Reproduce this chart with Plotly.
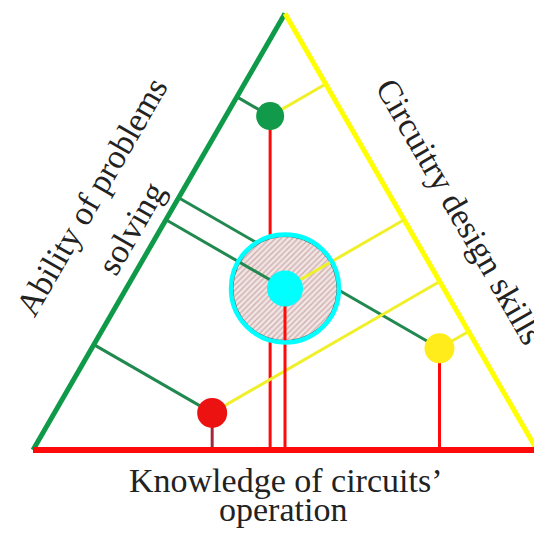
import numpy as np
import plotly.graph_objects as go

# Share of the triangle height measured from each point to each side.
# knowledge -> bottom side (red), problems -> left side (green), design -> right side (yellow)
points = ["green", "cyan", "yellow", "red"]
knowledge = [0.765, 0.370, 0.233, 0.085]
problems = [0.088, 0.315, 0.690, 0.313]
design = [0.147, 0.315, 0.077, 0.602]

side_labels = {
    "left": ["Ability of problems", "solving"],
    "right": "Circuitry design skills",
    "bottom": ["Knowledge of circuits\u2019", "operation"],
}

dot_colors = {"green": "#119a49", "cyan": "#00ffff", "yellow": "#ffec1a", "red": "#ec1212"}
dot_sizes = {"green": 28, "cyan": 36, "yellow": 30, "red": 30}

GREEN = "#0e9a48"
GREEN_LINE = "#21894f"
YELLOW = "#ffff00"
YELLOW_LINE = "#f0f02a"
RED = "#ff0a0a"

# triangle corners: A bottom-left, B bottom-right, C top
A = np.array([0.0, 0.0])
B = np.array([1.0, 0.0])
C = np.array([0.5, np.sqrt(3) / 2])


def to_xy(d, p, k):
    return d * A + p * B + k * C


def segment(fig, p0, p1, color, width):
    fig.add_trace(
        go.Scatter(
            x=[p0[0], p1[0]],
            y=[p0[1], p1[1]],
            mode="lines",
            line=dict(color=color, width=width),
            hoverinfo="skip",
        )
    )


def perpendiculars(fig, d, p, k, red_color=RED):
    pt = to_xy(d, p, k)
    segment(fig, pt, to_xy(d + k / 2, p + k / 2, 0), red_color, 3)
    segment(fig, pt, to_xy(d + p / 2, 0, k + p / 2), GREEN_LINE, 3)
    segment(fig, pt, to_xy(0, p + d / 2, k + d / 2), YELLOW_LINE, 3)


fig = go.Figure()

# perpendicular lines of the individual points
for name, k, p, d in zip(points, knowledge, problems, design):
    if name == "cyan":
        continue
    perpendiculars(fig, d, p, k, "#a3283a" if name == "red" else RED)

# triangle sides
segment(fig, A, C, GREEN, 5)
segment(fig, B, C, YELLOW, 5)
segment(fig, A, B, RED, 6)

# hatched zone round the cyan point
i = points.index("cyan")
centre = to_xy(design[i], problems[i], knowledge[i])
r = 52 / 504
t = np.linspace(0, 2 * np.pi, 121)
fig.add_trace(
    go.Scatter(
        x=centre[0] + r * np.cos(t),
        y=centre[1] + r * np.sin(t),
        mode="lines",
        fill="toself",
        fillcolor="#f3e4e4",
        fillpattern=dict(shape="/", fgcolor="#a87c7c", bgcolor="#f3e4e4", size=4, solidity=0.35),
        line=dict(color="#555555", width=1),
        hoverinfo="skip",
    )
)
perpendiculars(fig, design[i], problems[i], knowledge[i])
fig.add_trace(
    go.Scatter(
        x=[centre[0]],
        y=[centre[1]],
        mode="markers",
        marker=dict(symbol="circle-open", size=108, color="#00ffff", opacity=1, line=dict(width=4.5)),
        hoverinfo="skip",
    )
)

# the points
xy = [to_xy(d, p, k) for k, p, d in zip(knowledge, problems, design)]
fig.add_trace(
    go.Scatter(
        x=[q[0] for q in xy],
        y=[q[1] for q in xy],
        mode="markers",
        marker=dict(
            size=[dot_sizes[n] for n in points],
            color=[dot_colors[n] for n in points],
            opacity=1,
            line=dict(width=0),
        ),
        text=points,
        hoverinfo="text",
    )
)

font = dict(family="Liberation Serif", size=34, color="#222222")
annotations = [
    dict(x=0.117, y=0.502, text=side_labels["left"][0], textangle=-60),
    dict(x=0.194, y=0.440, text=side_labels["left"][1], textangle=-60),
    dict(x=0.847, y=0.474, text=side_labels["right"], textangle=60),
    dict(x=0.5, y=-0.060, text=side_labels["bottom"][0], textangle=0),
    dict(x=0.496, y=-0.119, text=side_labels["bottom"][1], textangle=0),
]
for a in annotations:
    a.update(xref="x", yref="y", showarrow=False, font=font, xanchor="center", yanchor="middle")

# the page body keeps an 8px margin, so the figure is 8px smaller than the window
fig.update_layout(
    width=534,
    height=539,
    margin=dict(l=0, r=0, t=0, b=0),
    paper_bgcolor="white",
    plot_bgcolor="white",
    showlegend=False,
    annotations=annotations,
)
fig.update_xaxes(range=[-25 / 504, 509 / 504], visible=False)
fig.update_yaxes(range=[-97 / 504, 442 / 504], visible=False)

fig.write_html("out.html")
